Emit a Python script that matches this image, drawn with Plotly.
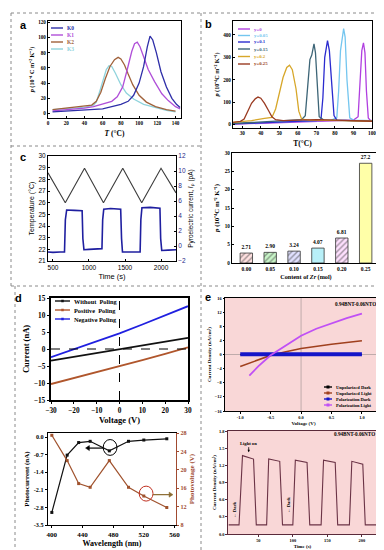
import plotly.graph_objects as go

W, H = 384, 550
SERIF = "Liberation Serif"
SANS = "Liberation Sans"

# ---------------- data ----------------
# panel a
a_K0_T = [5, 20, 40, 60, 70, 80, 88, 94, 100, 105, 109, 112, 115, 119, 124, 130, 136, 141, 145]
a_K0_p = [2, 3, 4, 6, 9, 12, 16, 24, 40, 62, 88, 102, 97, 80, 55, 35, 20, 12, 8]
a_K1_T = [5, 20, 40, 50, 60, 70, 76, 82, 87, 92, 95, 98, 101, 105, 110, 117, 125, 132, 140, 145]
a_K1_p = [3.5, 5, 7, 9, 13, 16, 22, 35, 58, 82, 92, 94, 88, 75, 58, 42, 26, 17, 9, 6]
a_K2_T = [5, 20, 40, 48, 53, 58, 63, 68, 73, 77, 80, 84, 88, 93, 100, 108, 118, 130, 140]
a_K2_p = [5, 7, 9, 11, 16, 28, 46, 62, 71, 74, 72, 64, 52, 38, 24, 15, 9, 5, 3]
a_K3_T = [5, 20, 40, 50, 53, 57, 61, 64, 67, 70, 74, 80, 86, 94, 105, 117, 130, 140]
a_K3_p = [5, 6, 8, 11, 15, 30, 47, 58, 63, 62, 53, 38, 27, 19, 12, 8, 4, 2]
a_names = ["K0", "K1", "K2", "K3"]

# panel b
b_y025_T = [25, 29, 31, 33, 35, 37, 38.5, 40, 42, 44, 46, 48, 52, 60, 70, 80, 90, 100]
b_y025_p = [10, 15, 25, 60, 95, 115, 123, 118, 95, 65, 35, 22, 18, 20, 22, 20, 18, 15]
b_y02_T = [25, 35, 42, 46, 48, 50, 52, 54, 55.5, 57, 59, 60.5, 62, 66, 75, 85, 95, 100]
b_y02_p = [10, 18, 28, 32, 70, 135, 210, 255, 265, 245, 160, 60, 25, 20, 20, 18, 16, 15]
b_y015_T = [25, 40, 55, 62, 64, 65.5, 66.5, 67.5, 68.7, 69.5, 70.5, 71.5, 74, 85, 100]
b_y015_p = [5, 12, 18, 22, 40, 180, 290, 310, 360, 320, 150, 35, 20, 18, 16]
b_y01_T = [25, 40, 60, 70, 72.5, 73.5, 74.5, 75.5, 76, 77, 78.5, 79.5, 81, 90, 100]
b_y01_p = [3, 8, 14, 18, 25, 120, 300, 360, 375, 330, 170, 40, 20, 18, 16]
b_y005_T = [25, 40, 60, 78, 81, 82, 83, 84, 84.7, 85.5, 86.5, 88, 90, 100]
b_y005_p = [5, 10, 15, 20, 30, 150, 330, 400, 428, 390, 200, 30, 20, 18]
b_y0_T = [25, 40, 60, 80, 90, 92.5, 93.5, 94.5, 95.4, 96.2, 97, 98, 99, 100]
b_y0_p = [2, 6, 10, 15, 20, 35, 200, 330, 365, 320, 150, 30, 20, 18]
b_names = ["y=0", "y=0.05", "y=0.1", "y=0.15", "y=0.2", "y=0.25"]

# panel c
c_temp_t = [431, 671, 938, 1201, 1469, 1732, 2000, 2208]
c_temp = [28.56, 26.0, 28.95, 26.0, 28.95, 26.0, 28.95, 26.84]
c_cur_t = [431, 500, 600, 660, 672, 690, 800, 905, 915, 930, 1000, 1100, 1180, 1190, 1205,
           1300, 1440, 1452, 1465, 1550, 1650, 1710, 1720, 1735, 1850, 1985, 1995, 2010, 2100, 2208]
c_cur = [-0.8, -0.85, -0.8, -0.8, 3.5, 4.8, 4.75, 4.7, 1.0, -0.5, -0.45, -0.4, -0.35, 3.5, 4.9,
         5.0, 4.9, 1.0, -0.8, -0.8, -0.75, -0.8, 3.5, 5.1, 5.15, 5.05, 1.0, -0.6, -0.55, -0.5]

# bar panel
zr_content = ["0.00", "0.05", "0.10", "0.15", "0.20", "0.25"]
zr_p = [2.71, 2.90, 3.24, 4.07, 6.81, 27.2]
zr_labels = ["2.71", "2.90", "3.24", "4.07", "6.81", "27.2"]

# panel d top
d_volt = [-30, -20, -10, 0, 10, 20, 30]
d_without = [-3.4, -2.3, -1.1, 0, 1.1, 2.2, 3.3]
d_positive = [-10.3, -8.6, -6.9, -5.0, -3.3, -1.4, 0.5]
d_negative = [-2.4, -0.1, 2.2, 4.6, 7.2, 9.9, 12.6]
d_names = ["Without  Poling", "Positive  Poling", "Negative Poling"]

# panel d bottom
d_wl = [400, 420, 435, 450, 475, 500, 520, 550]
d_photocurrent = [-3.0, -0.72, -0.22, -0.17, -0.55, -0.17, -0.12, -0.07]
d_photovoltage = [27.5, 22.0, 17.0, 16.2, 22.0, 16.2, 14.3, 11.8]

# panel e top
e_V_unpol_dark = [-1.0, -0.5, 0.0, 0.5, 1.0]
e_J_unpol_dark = [0.0, 0.0, 0.0, 0.0, 0.0]
e_V_unpol_light = [-1.0, -0.75, -0.5, -0.25, 0.0, 0.5, 1.0]
e_J_unpol_light = [-3.4, -1.8, -0.25, 0.8, 1.7, 2.9, 3.9]
e_V_pol_dark = [-1.0, -0.5, 0.0, 0.5, 1.0]
e_J_pol_dark = [0.1, 0.1, 0.1, 0.1, 0.1]
e_V_pol_light = [-0.85, -0.7, -0.5, -0.3, 0.0, 0.25, 0.5, 0.75, 1.0]
e_J_pol_light = [-6.0, -3.3, -0.2, 2.0, 5.3, 7.3, 8.9, 10.3, 11.6]
e_names = ["Unpolarized Dark", "Unpolarized Light", "Polarization Dark", "Polarization Light"]

# panel e bottom
e_time = [7, 22, 27, 43, 47, 62, 65, 81, 85, 100, 103.6, 120.6, 124.5, 141, 144.5, 161.4,
          165, 182, 185.5, 201.4, 205, 222]
e_J_time = [0.16, 0.16, 1.37, 1.31, 0.16, 0.16, 1.31, 1.27, 0.16, 0.16, 1.29, 1.25, 0.16, 0.16,
            1.29, 1.25, 0.16, 0.16, 1.27, 1.22, 0.16, 0.16]

# ---------------- helpers ----------------
def dx(p0, p1):
    return [p0 / W, p1 / W]

def dy(p0, p1):
    return [1 - p1 / H, 1 - p0 / H]

def fnt(size, family=SERIF, bold=True, color="black"):
    d = dict(family=family, size=size, color=color)
    if bold:
        d["weight"] = "bold"
    return d

def axis(domain, anchor, rng, tickfont, title=None, titlefont=None, standoff=2,
         dtick=None, tickvals=None, ticktext=None, ticks="inside", ticklen=2,
         color="black", mirror=True, **kw):
    d = dict(domain=domain, anchor=anchor, range=rng, showline=True, linecolor=color,
             linewidth=1, mirror=mirror, ticks=ticks, ticklen=ticklen, tickwidth=0.8,
             tickcolor=color, showgrid=False, zeroline=False, automargin=False,
             tickfont=tickfont, fixedrange=True)
    if dtick is not None:
        d["dtick"] = dtick
    if tickvals is not None:
        d["tickvals"] = tickvals
    if ticktext is not None:
        d["ticktext"] = ticktext
    if title is not None:
        d["title"] = dict(text=title, font=titlefont, standoff=standoff)
    d.update(kw)
    return d

fig = go.Figure()
shapes = []
annotations = []

def line_tr(x, y, xa, ya, color, width=1.3, name=None, **kw):
    fig.add_trace(go.Scatter(x=x, y=y, xaxis=xa, yaxis=ya, mode="lines",
                             line=dict(color=color, width=width), name=name,
                             showlegend=False, **kw))

def legend_block(x0, x1, ys, names, colors, tcolors, size, marker=False, msize=2.5,
                 family=SERIF, bold=True):
    for y, n, c, tc in zip(ys, names, colors, tcolors):
        shapes.append(dict(type="line", xref="paper", yref="paper", x0=x0 / W, x1=x1 / W,
                           y0=1 - y / H, y1=1 - y / H, line=dict(color=c, width=1.4)))
        if marker:
            xm = (x0 + x1) / 2
            shapes.append(dict(type="rect", xref="paper", yref="paper",
                               x0=(xm - msize / 2) / W, x1=(xm + msize / 2) / W,
                               y0=1 - (y + msize / 2) / H, y1=1 - (y - msize / 2) / H,
                               fillcolor=c, line=dict(width=0)))
        annotations.append(dict(xref="paper", yref="paper", x=(x1 + 1.5) / W, y=1 - y / H,
                                text=n, showarrow=False, xanchor="left", yanchor="middle",
                                font=fnt(size, family, bold, tc)))

def panel_label(x, y, t):
    annotations.append(dict(xref="paper", yref="paper", x=x / W, y=1 - y / H, text=t,
                            showarrow=False, xanchor="center", yanchor="middle",
                            font=dict(family=SANS, size=11, color="black", weight="bold")))

# ---------------- panel a ----------------
a_cols = ["#2e2ea8", "#b04fd8", "#a0613a", "#8fd3dc"]
for T, p, c, n in [(a_K3_T, a_K3_p, a_cols[3], "K3"), (a_K2_T, a_K2_p, a_cols[2], "K2"),
                   (a_K1_T, a_K1_p, a_cols[1], "K1"), (a_K0_T, a_K0_p, a_cols[0], "K0")]:
    line_tr(T, p, "x", "y", c, 1.3, n)
legend_block(43, 55, [20, 27, 34, 41], a_names, a_cols, a_cols, 5.5)
panel_label(15, 17, "a")

# ---------------- panel b ----------------
b_cols = ["#b03fe0", "#74c6ef", "#2b2bcf", "#3d6577", "#d7a72a", "#9a3b22"]
b_series = [(b_y0_T, b_y0_p), (b_y005_T, b_y005_p), (b_y01_T, b_y01_p),
            (b_y015_T, b_y015_p), (b_y02_T, b_y02_p), (b_y025_T, b_y025_p)]
for (T, p), c, n in zip(b_series, b_cols, b_names):
    line_tr(T, p, "x2", "y2", c, 1.3, n)
legend_block(230, 242, [21, 27.5, 34, 41, 48.5, 56], b_names, b_cols, b_cols, 4.8)
panel_label(200, 16, "b")

# ---------------- panel c ----------------
line_tr(c_temp_t, c_temp, "x3", "y3", "#3b3b3b", 1.1, "Temperature")
line_tr(c_cur_t, c_cur, "x3", "y9", "#1f1fa0", 1.6, "Pyroelectric current")
panel_label(15, 149, "c")

# ---------------- bar panel ----------------
bar_fg = ["#e05050", "#40c040", "#4040d8", "#40c8d8", "#d840d8", "#d8d840"]
bar_bg = ["#ffe0e0", "#c8f5c8", "#e0e0ff", "#b8f0f8", "#ffe0ff", "#ffffa8"]
bar_shape = ["/", "/", "/", "", "/", ""]
fig.add_trace(go.Bar(x=zr_content, y=zr_p, xaxis="x4", yaxis="y4", width=0.52,
                     text=zr_labels, textposition="outside", cliponaxis=False,
                     textfont=fnt(5.5), showlegend=False,
                     marker=dict(color=bar_bg, line=dict(color="#333333", width=0.8),
                                 pattern=dict(shape=bar_shape, fgcolor=bar_fg, size=4,
                                              solidity=0.35, fillmode="overlay"))))

# ---------------- panel d top ----------------
d_cols = ["#111111", "#b0562c", "#2020e0"]
for y, c, n in zip([d_without, d_positive, d_negative], d_cols, d_names):
    line_tr(d_volt, y, "x5", "y5", c, 1.8, n)
shapes.append(dict(type="line", xref="x5", yref="y5 domain", x0=0, x1=0, y0=0, y1=1,
                   line=dict(color="black", width=1, dash="dash")))
shapes.append(dict(type="line", xref="x5 domain", yref="y5", x0=0, x1=1, y0=0, y1=0,
                   line=dict(color="black", width=1, dash="dash")))
legend_block(47, 62, [293, 302, 311], d_names, d_cols, ["black"] * 3, 6.3, marker=True)
panel_label(10, 290, "d")

# ---------------- panel d bottom ----------------
fig.add_trace(go.Scatter(x=d_wl, y=d_photocurrent, xaxis="x6", yaxis="y6", mode="lines+markers",
                         line=dict(color="#111111", width=1.2),
                         marker=dict(symbol="square", size=3, color="#111111"),
                         name="Photocurrent", showlegend=False))
fig.add_trace(go.Scatter(x=d_wl, y=d_photovoltage, xaxis="x6", yaxis="y10", mode="lines+markers",
                         line=dict(color="#a0522d", width=1.2),
                         marker=dict(symbol="square", size=3, color="#a0522d"),
                         name="Photovoltage", showlegend=False))
shapes.append(dict(type="circle", xref="x6", yref="y6", x0=467, x1=485, y0=-0.73, y1=-0.1,
                   line=dict(color="black", width=1)))
shapes.append(dict(type="circle", xref="x6", yref="y10", x0=514, x1=532, y0=13.2, y1=16.45,
                   line=dict(color="#c03020", width=1)))
shapes.append(dict(type="line", xref="x6", yref="y6", x0=467, x1=446, y0=-0.44, y1=-0.44,
                   line=dict(color="black", width=1.2)))
shapes.append(dict(type="path", xref="x6", yref="y6",
                   path="M 444,-0.44 L 449,-0.34 L 449,-0.54 Z",
                   fillcolor="black", line=dict(color="black", width=0.5)))
shapes.append(dict(type="line", xref="x6", yref="y10", x0=532, x1=555, y0=14.6, y1=14.6,
                   line=dict(color="#8a6a30", width=1.2)))
shapes.append(dict(type="path", xref="x6", yref="y10",
                   path="M 558,14.6 L 553,15.15 L 553,14.05 Z",
                   fillcolor="#8a6a30", line=dict(color="#8a6a30", width=0.5)))

# ---------------- panel e top ----------------
shapes.append(dict(type="rect", xref="x7 domain", yref="y7 domain", x0=0, x1=1, y0=0, y1=1,
                   fillcolor="#f9d7d7", line=dict(width=0), layer="below"))
shapes.append(dict(type="line", xref="x7", yref="y7 domain", x0=0, x1=0, y0=0, y1=1,
                   line=dict(color="#b0a0a0", width=0.8), layer="below"))
shapes.append(dict(type="line", xref="x7 domain", yref="y7", x0=0, x1=1, y0=0, y1=0,
                   line=dict(color="#b0a0a0", width=0.8), layer="below"))
e_cols = ["#000000", "#a0401e", "#1515c8", "#c050f5"]
line_tr(e_V_unpol_dark, e_J_unpol_dark, "x7", "y7", e_cols[0], 1.2, e_names[0])
line_tr(e_V_unpol_light, e_J_unpol_light, "x7", "y7", e_cols[1], 1.6, e_names[1])
line_tr(e_V_pol_dark, e_J_pol_dark, "x7", "y7", e_cols[2], 4.0, e_names[2])
line_tr(e_V_pol_light, e_J_pol_light, "x7", "y7", e_cols[3], 1.8, e_names[3])
legend_block(316, 324, [379, 385, 391, 397], e_names, e_cols, ["black"] * 4, 4.5,
             marker=True, msize=3)
annotations.append(dict(xref="paper", yref="paper", x=370 / W, y=1 - 296 / H,
                        text="0.94BNT-0.06NTO", showarrow=False, xanchor="right",
                        yanchor="middle", font=fnt(5.2)))
panel_label(200, 289, "e")

# ---------------- panel e bottom ----------------
shapes.append(dict(type="rect", xref="x8 domain", yref="y8 domain", x0=0, x1=1, y0=0, y1=1,
                   fillcolor="#f9d7d7", line=dict(width=0), layer="below"))
line_tr(e_time, e_J_time, "x8", "y8", "#6b3346", 1.1, "Current density")
annotations.append(dict(xref="paper", yref="paper", x=369 / W, y=1 - 426 / H,
                        text="0.94BNT-0.06NTO", showarrow=False, xanchor="right",
                        yanchor="middle", font=fnt(5.2)))
annotations.append(dict(xref="x8", yref="y8", x=36, y=1.43, ax=0, ay=-9, text="Light on",
                        showarrow=True, arrowhead=2, arrowsize=0.6, arrowwidth=0.8,
                        arrowcolor="black", font=fnt(4.6)))
for tx, ty in [(16, 0.42), (94, 0.5)]:
    annotations.append(dict(xref="x8", yref="y8", x=tx, y=ty, text="← Dark",
                            textangle=-90, showarrow=False, font=fnt(4.6)))

# ---------------- dotted borders ----------------
def dotted(x0, y0, x1, y1):
    shapes.append(dict(type="line", xref="paper", yref="paper", x0=x0 / W, x1=x1 / W,
                       y0=1 - y0 / H, y1=1 - y1 / H,
                       line=dict(color="#8a8a8a", width=1, dash="dot")))

dotted(3, 5, 377, 5)
dotted(3, 5, 3, 278)
dotted(377, 5, 377, 543)
dotted(3, 278, 377, 278)
dotted(7, 278, 7, 543)
dotted(7, 543, 377, 543)
dotted(193, 5, 193, 543)
dotted(3, 138, 193, 138)

# ---------------- layout ----------------
tf_a = fnt(5.2)
ytitle_p = "<i>p</i> (10⁻⁴ C m⁻² K⁻¹)"
ytitle_p2 = "<i>p</i> (10⁻⁴C m⁻² K⁻¹)"
tf_e = fnt(4.4)
tt_e = fnt(5)

layout = dict(
    width=W, height=H, autosize=False, margin=dict(l=0, r=0, t=0, b=0),
    paper_bgcolor="white", plot_bgcolor="rgba(0,0,0,0)", showlegend=False,
    bargap=0.4,
    # a
    xaxis=axis(dx(40, 173), "y", [0, 146], tf_a, "<i>T</i> (°C)", fnt(7.5), 5, dtick=20),
    yaxis=axis(dy(13, 110), "x", [-6, 122], tf_a, ytitle_p, fnt(6.2), 3, dtick=20),
    # b
    xaxis2=axis(dx(225, 364), "y2", [25, 100], tf_a, "T(°C)", fnt(7.5), 5, dtick=10),
    yaxis2=axis(dy(13, 120), "x2", [-15, 462], tf_a, ytitle_p2, fnt(6.2), 3,
                tickvals=[0, 100, 200, 300, 400]),
    # c
    xaxis3=axis(dx(40, 168), "y3", [431, 2208], fnt(6.5, SANS, False), "Time (s)",
                fnt(7.5, SANS, False), 3, tickvals=[500, 1000, 1500, 2000]),
    yaxis3=axis(dy(148, 253), "x3", [21, 30], fnt(6.5, SANS, False), "Temperature (°C)",
                fnt(7, SANS, False), 3, dtick=1, mirror=False),
    yaxis9=axis(dy(148, 253), "x3", [-2, 12], fnt(6.5, SANS, False, "#2a2a8a"),
                "Pyroelectric current, <i>I</i>ₚ (pA)", fnt(6.5, SANS, False),
                3, dtick=2, overlaying="y3", side="right", mirror=False),
    # bar
    xaxis4=axis(dx(224, 372), "y4", [-0.6, 5.6], fnt(5.5), "Content of <i>Zr</i> (mol)",
                fnt(6.2), 4, type="category", ticks=""),
    yaxis4=axis(dy(145, 255), "x4", [0, 30], tf_a, ytitle_p2, fnt(6.8), 4, dtick=5),
    # d top
    xaxis5=axis(dx(43, 180), "y5", [-30, 30], fnt(7.3), "Voltage (V)", fnt(8.5), 2,
                dtick=10, ticks="outside", ticklen=2.5, linewidth=1.5),
    yaxis5=axis(dy(290, 392), "x5", [-15, 15], fnt(7.3), "Current (nA)", fnt(8.5), 3,
                dtick=5, ticks="outside", ticklen=2.5, linewidth=1.5),
    # d bottom
    xaxis6=axis(dx(40, 168), "y6", [395, 562], fnt(7), "Wavelength (nm)", fnt(8), 1,
                tickvals=[400, 440, 480, 520, 560], ticks="outside", linewidth=1.3),
    yaxis6=axis(dy(425, 517), "x6", [-3.5, 0.16], fnt(6.2), "Photocurrent (nA)", fnt(7), 3,
                tickvals=[0.0, -0.7, -1.4, -2.1, -2.8, -3.5],
                ticktext=["0.0", "-0.7", "-1.4", "-2.1", "-2.8", "-3.5"],
                ticks="outside", mirror=False, linewidth=1.3),
    yaxis10=axis(dy(425, 517), "x6", [8, 28], fnt(6.2, SERIF, True, "#a04a30"),
                 "Photovoltage (V)", fnt(7, SERIF, True, "#a04a30"), 3, dtick=4,
                 overlaying="y6", side="right", ticks="outside", color="#a04a30",
                 mirror=False, linewidth=1.3),
    # e top
    xaxis7=axis(dx(217, 374), "y7", [-1.25, 1.33], tf_e,
                "Voltage (V)", tt_e, 2, tickvals=[-1.0, -0.5, 0.0, 0.5, 1.0],
                ticktext=["-1.0", "-0.5", "0.0", "0.5", "1.0"], ticks="outside", ticklen=1.5),
    yaxis7=axis(dy(290, 403), "x7", [-16, 16], tf_e, "Current Density (nA/cm²)",
                tt_e, 2, dtick=4, ticks="outside", ticklen=1.5),
    # e bottom
    xaxis8=axis(dx(220, 369), "y8", [6, 222], tf_e, "Time (s)", tt_e, 2,
                tickvals=[50, 100, 150, 200], ticks="outside", ticklen=1.5,
                color="#5a2a3a", linewidth=1.3),
    yaxis8=axis(dy(423, 526), "x8", [0, 1.8], tf_e, "Current Density (nA/cm²)",
                tt_e, 2, tickvals=[0.0, 0.3, 0.6, 0.9, 1.2, 1.5, 1.8],
                ticktext=["0.0", "0.3", "0.6", "0.9", "1.2", "1.5", "1.8"],
                ticks="outside", ticklen=1.5, color="#5a2a3a", linewidth=1.3),
    shapes=shapes,
    annotations=annotations,
)
fig.update_layout(**layout)
fig.write_html("out.html")
